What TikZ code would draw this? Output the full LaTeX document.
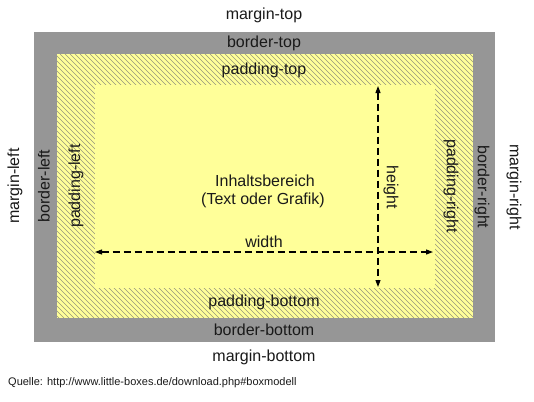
\documentclass[tikz,border=0pt]{standalone}
\usepackage{fontspec}
\setmainfont{Liberation Sans}
\usetikzlibrary{arrows.meta}
\definecolor{bordergray}{HTML}{969696}
\definecolor{boxyellow}{HTML}{FFFF99}
\definecolor{hatchgray}{HTML}{96967E}
\definecolor{txt}{HTML}{1A1A1A}
\begin{document}
\begin{tikzpicture}[x=1bp,y=-1bp,
  lbl/.style={inner sep=0pt, font=\fontsize{16bp}{19bp}\selectfont, text=txt},
  lblL/.style={lbl, rotate=90},
  lblR/.style={lbl, rotate=-90},
  small/.style={inner sep=0pt, font=\fontsize{11bp}{13bp}\selectfont, text=txt},
  dimarrow/.style={draw=black, line width=1.1bp, dash pattern=on 7bp off 4bp,
    {Triangle[length=7bp,width=5bp]}-{Triangle[length=7bp,width=5bp]}},
  borderbox/.style={fill=bordergray, draw=none},
  paddingbox/.style={fill=boxyellow, draw=none},
  hatchline/.style={draw=hatchgray, line width=0.65bp},
  contentbox/.style={fill=boxyellow, draw=none}
]
\useasboundingbox[fill=white] (0,0) rectangle (534,401);
% boxes
\path[borderbox] (34,32) rectangle (495,342);
\path[paddingbox] (57,54) rectangle (473,318);
\begin{scope}
  \clip (57,54) rectangle (473,318);
  \foreach \x in {-210,-205,...,475} {
    \draw[hatchline] (\x,54) -- (\x+264,318);
  }
\end{scope}
\path[contentbox] (95,85) rectangle (435,288);
% dimension arrows
\coordinate (wL) at (95,252);
\coordinate (wR) at (433,252);
\coordinate (hT) at (378,86);
\coordinate (hB) at (378,287);
\draw[dimarrow] (wL) -- (wR);
\draw[dimarrow] (hT) -- (hB);
% labels top/bottom
\node[lbl] (mt) at (264,15) {margin-top};
\node[lbl] (bt) at (264,43) {border-top};
\node[lbl] (pt) at (264,70) {padding-top};
\node[lbl] (c1) at (265,181) {Inhaltsbereich};
\node[lbl] (c2) at (263,200) {(Text oder Grafik)};
\node[lbl] (wd) at (264,242) {width};
\node[lbl] (pb) at (264,302) {padding-bottom};
\node[lbl] (bb) at (264,330) {border-bottom};
\node[lbl] (mb) at (264,357) {margin-bottom};
% labels left
\node[lblL] (ml) at (15,186) {margin-left};
\node[lblL] (bl) at (44,186) {border-left};
\node[lblL] (pl) at (76,186) {padding-left};
% labels right
\node[lblR] (ht) at (391,187) {height};
\node[lblR] (pr) at (451,186) {padding-right};
\node[lblR] (br) at (482,187) {border-right};
\node[lblR] (mr) at (514,187) {margin-right};
% source
\node[small, anchor=west] (src) at (8,383) {Quelle: http://www.little-boxes.de/download.php\#boxmodell};
\end{tikzpicture}
\end{document}
